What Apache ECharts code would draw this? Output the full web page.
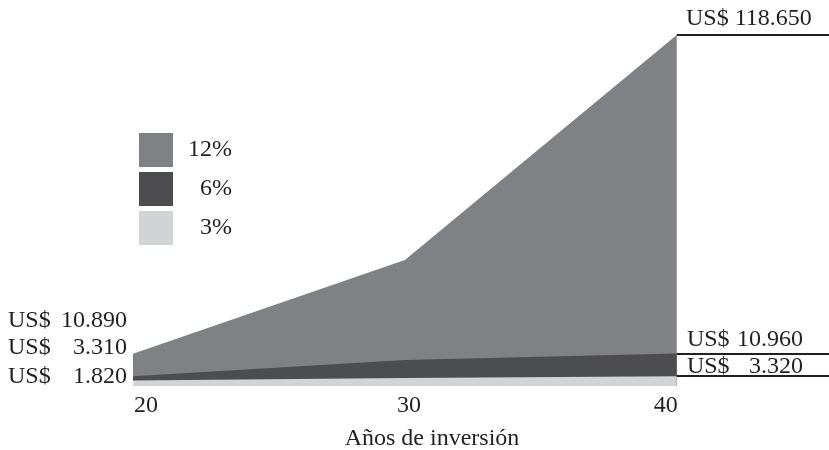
<!DOCTYPE html>
<html>
<head>
<meta charset="utf-8">
<script src="https://cdn.jsdelivr.net/npm/echarts@6/dist/echarts.min.js"></script>
<style>html,body{margin:0;padding:0;background:#fff;}#c{width:829px;height:450px;}</style>
</head>
<body>
<div id="c"></div>
<script>
const years = [20, 30, 40];
const xTicks = [20, 30, 40];
const seriesNames = ['12%', '6%', '3%'];
const s12 = [10890, 42600, 118650];
const s6 = [3310, 8800, 10960];
const s3 = [1820, 2700, 3320];
const xName = 'Años de inversión';
const currency = 'US$';

const FONT = "'Liberation Serif', 'Times New Roman', serif";
const TXT = '#231f20';
const colors = ['#808184', '#4d4d4f', '#d1d3d4'];
const allVals = [s12, s6, s3];

function fmt(v) { return String(v).replace(/\B(?=(\d{3})+(?!\d))/g, '.'); }

const chart = echarts.init(document.getElementById('c'), null, {renderer: 'canvas'});

const rightPad = [[0, 8, 0, 0], [0, 16, 0, 0], [0, 16, 0, 0]];
const rightDist = [4, 2, -3];
const series = allVals.map((vals, i) => ({
  name: seriesNames[i],
  type: 'line',
  data: years.map((y, k) => [y, vals[k]]),
  symbol: 'none',
  showSymbol: false,
  lineStyle: {width: 0},
  itemStyle: {color: colors[i]},
  areaStyle: {color: colors[i], opacity: 1},
  clip: false,
  z: 2 + i,
  markLine: {
    symbol: 'none',
    silent: true,
    animation: false,
    z: 10,
    lineStyle: {color: TXT, width: 2, type: 'solid'},
    label: {
      show: true,
      position: 'insideMiddleTop',
      distance: rightDist[i],
      padding: rightPad[i],
      formatter: () => i === 0 ? currency + ' ' + fmt(vals[2]) : '{u|' + currency + '}{n|' + fmt(vals[2]) + '}',
      color: TXT,
      fontFamily: FONT,
      fontSize: 24,
      rich: {
        u: {width: 40, align: 'left', fontFamily: FONT, fontSize: 24, color: TXT},
        n: {width: 76, align: 'right', fontFamily: FONT, fontSize: 24, color: TXT}
      }
    },
    data: [[{coord: [years[2], vals[2]]}, {coord: [45.6, vals[2]]}]]
  }
}));

const leftY = [322, 349, 378];
const graphics = [];
allVals.forEach((vals, i) => {
  graphics.push({type: 'text', left: 8, top: leftY[i] - 13, style: {text: currency, font: '24px ' + FONT, fill: TXT}});
  graphics.push({type: 'text', right: 829 - 127, top: leftY[i] - 13, style: {text: fmt(vals[0]), font: '24px ' + FONT, fill: TXT, align: 'right'}});
});

const tickStyleKey = ['t0', 't1', 't2'];
const tickRich = {
  t0: {fontFamily: FONT, fontSize: 24, color: TXT, padding: [0, 0, 0, 26]},
  t1: {fontFamily: FONT, fontSize: 24, color: TXT, padding: [0, 0, 0, 8]},
  t2: {fontFamily: FONT, fontSize: 24, color: TXT, padding: [0, 22, 0, 0]}
};

chart.setOption({
  animation: false,
  backgroundColor: '#fff',
  grid: {left: 133, right: 0, top: 35, bottom: 64, containLabel: false, outerBoundsMode: 'none'},
  xAxis: {
    type: 'value', min: 20, max: 45.6, interval: 10,
    axisLine: {show: false}, axisTick: {show: false}, splitLine: {show: false},
    axisLabel: {
      showMaxLabel: false,
      margin: 8,
      color: TXT, fontFamily: FONT, fontSize: 24,
      rich: tickRich,
      formatter: v => {
        const k = xTicks.indexOf(v);
        return k >= 0 ? '{' + tickStyleKey[k] + '|' + v + '}' : '';
      }
    },
    name: xName, nameLocation: 'middle', nameGap: 41,
    nameTextStyle: {color: TXT, fontFamily: FONT, fontSize: 24, padding: [0, 98, 0, 0]}
  },
  yAxis: {type: 'value', min: 0, max: 118650, show: false, splitLine: {show: false}},
  legend: {
    orient: 'vertical', left: 139, top: 133, padding: 0,
    icon: 'rect', itemWidth: 34, itemHeight: 34, itemGap: 5,
    data: seriesNames,
    formatter: n => '{a|' + n + '}',
    textStyle: {color: TXT, fontFamily: FONT, fontSize: 24,
      rich: {a: {width: 54, align: 'right', fontFamily: FONT, fontSize: 24, color: TXT}}}
  },
  graphic: graphics,
  series: series
});
</script>
</body>
</html>
